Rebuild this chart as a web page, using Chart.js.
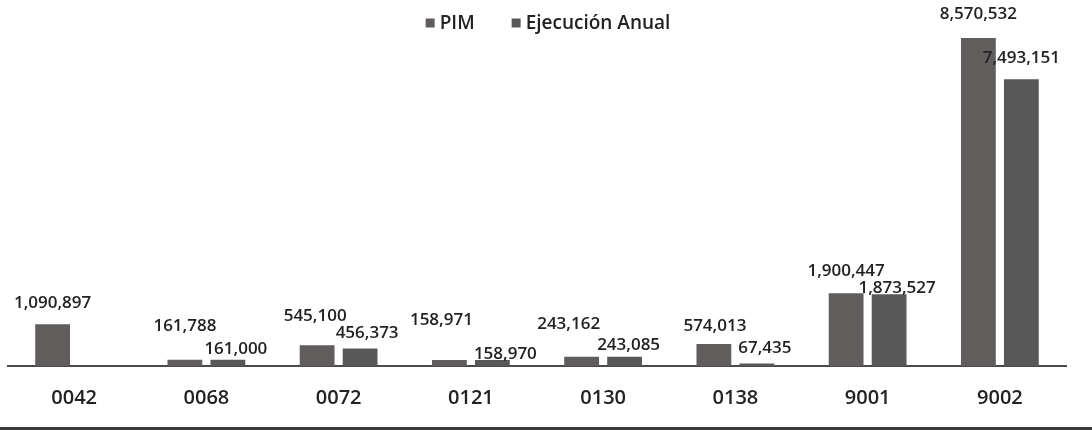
<!DOCTYPE html>
<html lang="es">
<head>
<meta charset="UTF-8">
<title>PIM vs Ejecución Anual</title>
<script src="https://cdn.jsdelivr.net/npm/chart.js@4"></script>
<style>
  html, body { margin: 0; padding: 0; background: #fff; }
  .wrap { position: relative; width: 1092px; height: 430px; }
  .wrap .edge { position: absolute; left: 0; right: 0; top: 427px; height: 3px; background: #3a3a3a; }
</style>
</head>
<body>
<div class="wrap">
  <canvas id="chart" width="1092" height="430"></canvas>
  <div class="edge"></div>
</div>
<script>
const categories = ['0042', '0068', '0072', '0121', '0130', '0138', '9001', '9002'];
const pim = [1090897, 161788, 545100, 158971, 243162, 574013, 1900447, 8570532];
const ejecucion = [null, 161000, 456373, 158970, 243085, 67435, 1873527, 7493151];
const seriesNames = ['PIM', 'Ejecución Anual'];
const seriesColors = ['#615d5d', '#585858'];

// desplazamiento de cada etiqueta [dx, dy] respecto al centro superior de su barra
const labelNudge = [
  [[0, 21], [0, 34], [-2, 29], [-8, 40], [-13, 33], [1, 18], [0, 22], [0, 24]],
  [[0, 0], [8, 11], [7, 15], [13, 6], [4, 12], [8, 15], [8, 6], [0, 21]]
];

const FONT = "'Open Sans', 'DejaVu Sans', sans-serif";
const TEXT = '#222';

// etiquetas de valor sobre las barras
const valueLabels = {
  id: 'valueLabels',
  afterDatasetsDraw(chart) {
    const ctx = chart.ctx;
    ctx.save();
    ctx.font = '600 17px ' + FONT;
    ctx.fillStyle = TEXT;
    ctx.textAlign = 'center';
    ctx.textBaseline = 'middle';
    chart.data.datasets.forEach((ds, di) => {
      chart.getDatasetMeta(di).data.forEach((bar, i) => {
        const v = ds.data[i];
        if (v === null || v === undefined) return;
        const [dx, dy] = labelNudge[di][i];
        ctx.fillText(v.toLocaleString('en-US'), bar.x + dx, bar.y - dy);
      });
    });
    ctx.restore();
  }
};

// leyenda centrada arriba, dentro del área del gráfico
const topLegend = {
  id: 'topLegend',
  afterDraw(chart) {
    const ctx = chart.ctx;
    const box = 9, gap = 5, spacing = 37, cy = 23;
    ctx.save();
    ctx.font = '600 19px ' + FONT;
    ctx.textBaseline = 'middle';
    const widths = chart.data.datasets.map(ds => ctx.measureText(ds.label).width);
    const total = widths.reduce((s, w) => s + box + gap + w, 0) + spacing * (widths.length - 1);
    let x = 548 - total / 2;
    chart.data.datasets.forEach((ds, i) => {
      ctx.fillStyle = ds.backgroundColor;
      ctx.fillRect(x, cy - box / 2, box, box);
      x += box + gap;
      ctx.fillStyle = TEXT;
      ctx.fillText(ds.label, x, cy + 1);
      x += widths[i] + spacing;
    });
    ctx.restore();
  }
};

new Chart(document.getElementById('chart'), {
  type: 'bar',
  data: {
    labels: categories,
    datasets: [
      { label: seriesNames[0], data: pim, backgroundColor: seriesColors[0], categoryPercentage: 0.65, barPercentage: 0.81 },
      { label: seriesNames[1], data: ejecucion, backgroundColor: seriesColors[1], categoryPercentage: 0.65, barPercentage: 0.81 }
    ]
  },
  options: {
    responsive: false,
    animation: false,
    layout: { padding: { top: 0, left: 8, right: 26, bottom: 0 } },
    plugins: { legend: { display: false }, tooltip: { enabled: false } },
    scales: {
      x: {
        grid: { display: false, drawTicks: false },
        border: { display: true, color: '#4a4a4a', width: 2 },
        ticks: { color: TEXT, font: { family: FONT, size: 20, weight: '600' }, padding: 20 }
      },
      y: { display: false, min: 0, max: 9560000 }
    }
  },
  plugins: [valueLabels, topLegend]
});
</script>
</body>
</html>
